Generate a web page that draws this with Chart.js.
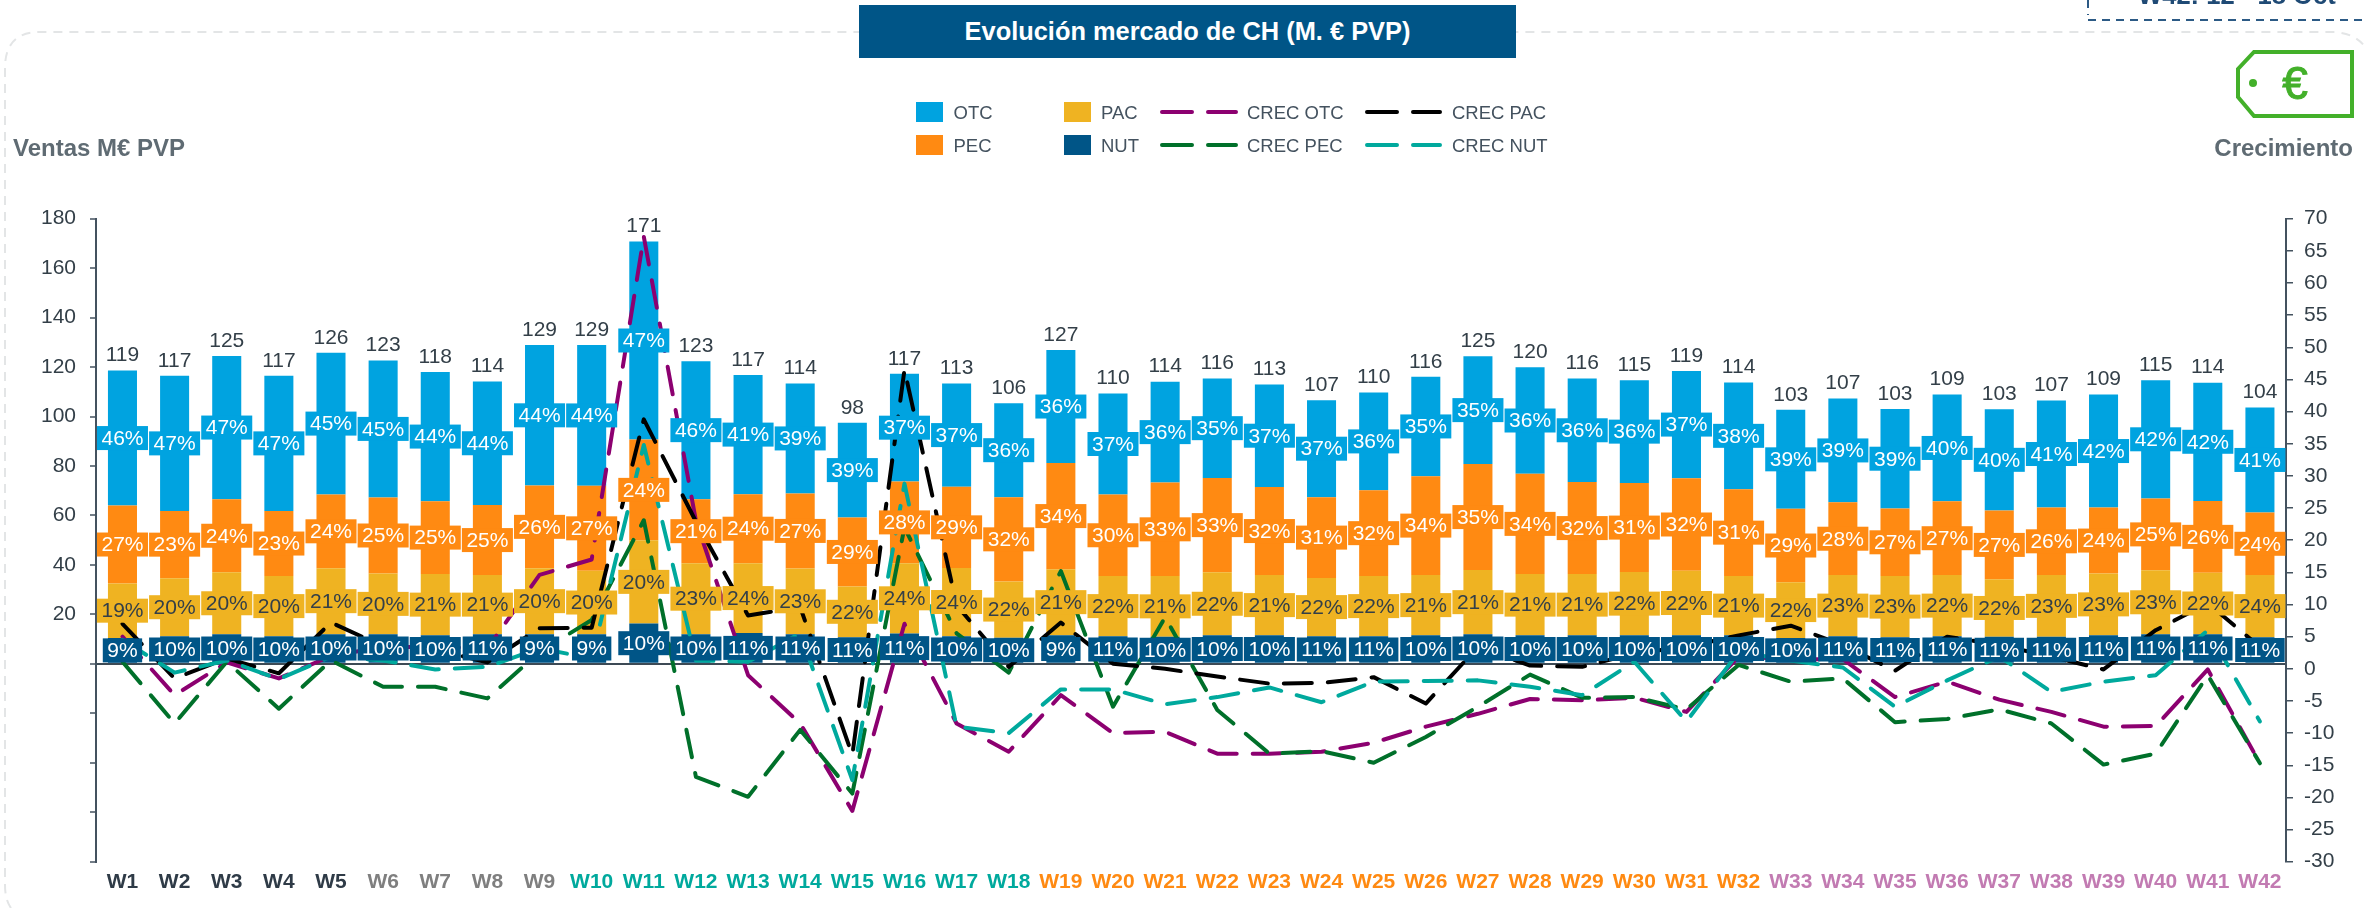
<!DOCTYPE html>
<html><head><meta charset="utf-8">
<script src="https://cdn.jsdelivr.net/npm/chart.js@4"></script>
<style>
html,body{margin:0;padding:0;background:#fff;width:2367px;height:908px;overflow:hidden;font-family:"Liberation Sans",Arial,sans-serif}
#wrap{position:relative;width:2367px;height:908px;overflow:hidden}
canvas{position:absolute;left:0;top:0}
.a{position:absolute;white-space:nowrap}
#title{left:859px;top:5px;width:657px;height:53px;background:#005587;color:#fff;font-weight:bold;font-size:25.4px;line-height:53px;text-align:center}
.sw{width:27px;height:20px}
.lt{font-size:18.5px;color:#44525f;line-height:22px;transform:translateY(-50%)}
.ax{font-weight:bold;font-size:24px;color:#5f6b73;line-height:28px}
svg{position:absolute;left:0;top:0}
</style></head><body><div id="wrap">
<svg width="2367" height="908">
<path d="M 11 908 Q 5 900 5 885 L 5 68 Q 5 32 40 32 L 2335 32 Q 2358 34 2367 50" fill="none" stroke="#e3e5e6" stroke-width="2" stroke-dasharray="9 7"/>
<path d="M 2088 0 L 2088 15 M 2088 20 L 2367 20" fill="none" stroke="#2c5a85" stroke-width="2" stroke-dasharray="8 6"/>
<path d="M 2254 52 L 2352 52 L 2352 116 L 2254 116 L 2238 97 L 2238 69 Z" fill="none" stroke="#43b02a" stroke-width="4"/>
<circle cx="2253" cy="83" r="4" fill="#43b02a"/>
<g stroke-width="4" stroke-linecap="round">
<path d="M1162 112H1192M1208 112H1236" stroke="#8c0070"/>
<path d="M1367 112H1397M1413 112H1440" stroke="#000"/>
<path d="M1162 145H1192M1208 145H1236" stroke="#00702a"/>
<path d="M1367 145H1397M1413 145H1440" stroke="#00a99d"/>
</g>
</svg>
<canvas id="c" width="2367" height="908"></canvas>
<div class="a" id="title">Evolución mercado de CH (M. € PVP)</div>
<div class="a" style="left:2295px;top:83px;transform:translate(-50%,-50%);font-size:46px;color:#43b02a;line-height:50px;-webkit-text-stroke:1px #43b02a">€</div>
<div class="a" style="left:2138px;top:-20.5px;font-size:25.6px;font-weight:bold;color:#1f4a75;line-height:30px">W42: 12 - 18 Oct</div>
<div class="a ax" style="left:13px;top:134px">Ventas M€ PVP</div>
<div class="a ax" style="right:14px;top:134px">Crecimiento</div>
<div class="a sw" style="left:916px;top:102px;background:#00a3e0"></div><div class="a lt" style="left:953.5px;top:113px">OTC</div>
<div class="a sw" style="left:916px;top:135px;background:#ff8a12"></div><div class="a lt" style="left:953.5px;top:146px">PEC</div>
<div class="a sw" style="left:1064px;top:102px;background:#efb322"></div><div class="a lt" style="left:1101px;top:113px">PAC</div>
<div class="a sw" style="left:1064px;top:135px;background:#005587"></div><div class="a lt" style="left:1101px;top:146px">NUT</div>
<div class="a lt" style="left:1247px;top:113px">CREC OTC</div>
<div class="a lt" style="left:1247px;top:146px">CREC PEC</div>
<div class="a lt" style="left:1452px;top:113px">CREC PAC</div>
<div class="a lt" style="left:1452px;top:146px">CREC NUT</div>
</div>
<script>
const weeks = ["W1","W2","W3","W4","W5","W6","W7","W8","W9","W10","W11","W12","W13","W14","W15","W16","W17","W18","W19","W20","W21","W22","W23","W24","W25","W26","W27","W28","W29","W30","W31","W32","W33","W34","W35","W36","W37","W38","W39","W40","W41","W42"];
const weekColors = [...Array(5).fill("#2f3b47"),...Array(4).fill("#7f7f7f"),...Array(9).fill("#00a99d"),...Array(14).fill("#ff8a12"),...Array(10).fill("#c27bb2")];
const nut = [10.5,11.2,12,11.2,12,12,11.6,12,12,12,16.3,12,12.5,12,10.8,12.3,11.2,10.6,11.6,11.2,11,11.6,11.6,11.2,11.2,11.6,12,11.6,11.6,11.6,11.6,11.6,10.5,11.2,10.8,11.2,11,11,11.6,12,12,10.8];
const pac = [22,23.4,25,24.3,26.7,24.5,24.7,23.9,26.7,25.6,33.7,28.7,28.2,26.6,20.5,28.4,27.6,22.7,26.7,24.3,24.5,25.4,24.3,23.5,24.3,24.3,25.9,24.7,24.7,25.5,26,23.9,22.5,24.7,24.7,24.7,23.2,24.9,24.9,25.8,24.8,25.1];
const pec = [31.5,27.2,29.6,26.3,29.8,30.8,29.5,28.3,33.4,34.4,40.7,25.9,27.9,30.3,27.9,33,32.8,34.1,42.9,33,37.8,38.2,35.6,32.7,34.7,40,42.9,40.6,37.2,36,37.5,35.1,29.7,29.4,27.3,29.8,27.8,27.3,26.7,29.1,29.1,25.3];
const otc = [54.6,54.7,57.9,54.7,57.3,55.4,52.2,50,56.8,56.9,80.1,55.8,48.2,44.5,38.3,43.6,41.8,38,45.7,40.8,40.8,40.2,41.5,39.2,39.5,40.2,43.6,43,41.9,41.6,43.3,43.2,40,42,40.3,43.2,41,43.3,45.7,47.8,47.8,42.5];
const totals = [119,117,125,117,126,123,118,114,129,129,171,123,117,114,98,117,113,106,127,110,114,116,113,107,110,116,125,120,116,115,119,114,103,107,103,109,103,107,109,115,114,104];
const otcPct = [46,47,47,47,45,45,44,44,44,44,47,46,41,39,39,37,37,36,36,37,36,35,37,37,36,35,35,36,36,36,37,38,39,39,39,40,40,41,42,42,42,41];
const pecPct = [27,23,24,23,24,25,25,25,26,27,24,21,24,27,29,28,29,32,34,30,33,33,32,31,32,34,35,34,32,31,32,31,29,28,27,27,27,26,24,25,26,24];
const pacPct = [19,20,20,20,21,20,21,21,20,20,20,23,24,23,22,24,24,22,21,22,21,22,21,22,22,21,21,21,21,22,22,21,22,23,23,22,22,23,23,23,22,24];
const nutPct = [9,10,10,10,10,10,10,11,9,9,10,10,11,11,11,11,10,10,9,11,10,10,10,11,11,10,10,10,10,10,10,10,10,11,11,11,11,11,11,11,11,11];
const crecOtc = [5,-4.1,1,-1.5,2,3.4,3.4,3.2,14.6,17,67.2,23,-1,-8.5,-22.1,7,-8.5,-12.9,-4.1,-10,-9.8,-13.2,-13.2,-12.9,-11.5,-9,-7,-4.7,-4.9,-4.5,-6.7,1.9,1.5,1.5,-4.4,-2,-4.8,-6.7,-9,-8.9,-0.1,-14.7];
const crecPac = [7,-1.5,1.6,-0.7,7.2,3.5,3,1,6.3,6.4,38.8,22.9,8.3,9.6,-13.4,46.5,9.9,0.3,7.2,0.8,0,-1.2,-2.3,-2.2,-1.3,-5.4,3.4,0.5,0.3,2.4,3.4,5.2,6.7,3.7,-0.3,5,3.7,1.9,-0.1,6,10.2,3.4];
const crecPec = [1.1,-8.5,1.1,-6.2,1.3,-2.8,-2.8,-4.6,2.6,7.6,23.1,-16.8,-19.9,-9.5,-19.4,22,5.5,-0.6,15.2,-5.9,8,-6.4,-13.2,-12.8,-14.6,-10.6,-5.9,-0.9,-4.5,-4.4,-6.3,0.6,-2,-1.5,-8.3,-7.8,-6.3,-8.5,-14.9,-13.2,-1,-14.7];
const crecNut = [4.5,-0.6,1.3,-1.6,1.9,1.3,-0.1,0.3,3.2,1.6,34.8,1.3,1.1,5.5,-17.3,28.8,-9,-10,-3.2,-3.2,-5.5,-4.4,-2.9,-5.2,-2,-1.9,-1.8,-2.8,-4.1,1.1,-8.2,2.6,1.3,0.2,-5.9,-1.8,1.9,-3.6,-2,-1,6,-8.2];

const C = {otc:"#00a3e0",pec:"#ff8a12",pac:"#efb322",nut:"#005587",axis:"#44525f",text:"#333f48"};
const FONT = '"Liberation Sans", Arial, sans-serif';
const FS = 21;

const bar = (label,data,color) => ({type:"bar",label,data,backgroundColor:color,stack:"s",yAxisID:"y",order:5,categoryPercentage:1,barPercentage:0.557});
const line = (label,data,color,order) => ({type:"line",label,data,borderColor:color,borderWidth:4,borderDash:[28,16],borderCapStyle:"round",borderJoinStyle:"round",tension:0,pointRadius:0,pointHoverRadius:0,fill:false,yAxisID:"y1",order,clip:false});

const labelsPlugin = {
  id:"boxLabels",
  afterDatasetsDraw(chart){
    const {ctx} = chart;
    const specs = [
      {idx:0,pct:nutPct,bg:C.nut,fg:"#fff"},
      {idx:1,pct:pacPct,bg:C.pac,fg:C.text},
      {idx:2,pct:pecPct,bg:C.pec,fg:"#fff"},
      {idx:3,pct:otcPct,bg:C.otc,fg:"#fff"}
    ];
    ctx.save();
    ctx.font = FS+"px "+FONT;
    ctx.textAlign="center"; ctx.textBaseline="middle";
    specs.forEach(s=>{
      const meta = chart.getDatasetMeta(s.idx);
      meta.data.forEach((el,i)=>{
        const cx = el.x, cy = (el.y+el.base)/2;
        const t = s.pct[i]+"%";
        const w = ctx.measureText(t).width+9, h=24;
        ctx.fillStyle=s.bg; ctx.fillRect(cx-w/2,cy-h/2,w,h);
        ctx.fillStyle=s.fg; ctx.fillText(t,cx,cy+1);
      });
    });
    const top = chart.getDatasetMeta(3);
    ctx.fillStyle=C.text;
    top.data.forEach((el,i)=>{ ctx.fillText(String(totals[i]),el.x,el.y-15); });
    ctx.restore();
  }
};

new Chart(document.getElementById("c"),{
  data:{labels:weeks,datasets:[
    bar("NUT",nut,C.nut),bar("PAC",pac,C.pac),bar("PEC",pec,C.pec),bar("OTC",otc,C.otc),
    line("CREC OTC",crecOtc,"#8c0070",4),
    line("CREC PEC",crecPec,"#00702a",3),
    line("CREC PAC",crecPac,"#000000",2),
    line("CREC NUT",crecNut,"#00a99d",1)
  ]},
  options:{
    responsive:false,animation:false,
    layout:{padding:{top:218.7,left:0,right:0,bottom:0}},
    plugins:{legend:{display:false},tooltip:{enabled:false},title:{display:false}},
    scales:{
      x:{stacked:true,grid:{display:false},border:{display:false},
        afterFit(s){s.height=46.3;},
        ticks:{autoSkip:false,maxRotation:0,minRotation:0,padding:0,color:c=>weekColors[c.index],font:{family:FONT,size:FS,weight:"bold"}}},
      y:{position:"left",stacked:true,min:-80,max:180,
        afterFit(s){s.width=96.4;},
        afterBuildTicks(s){s.ticks=[];for(let v=-80;v<=180;v+=20)s.ticks.push({value:v});},
        border:{display:true,color:C.axis,width:2},
        grid:{color:c=>c.tick&&c.tick.value===0?"#3d4a55":"rgba(0,0,0,0)",lineWidth:2,tickColor:C.axis,tickLength:6.4,tickWidth:1.5,drawTicks:true},
        ticks:{padding:14,color:C.text,font:{family:FONT,size:FS},callback:v=>v>0?String(v):""}},
      y1:{position:"right",min:-30,max:70,
        afterFit(s){s.width=81;},
        afterBuildTicks(s){s.ticks=[];for(let v=-30;v<=70;v+=5)s.ticks.push({value:v});},
        border:{display:true,color:C.axis,width:2},
        grid:{drawOnChartArea:false,color:C.axis,lineWidth:1.5,tickLength:7},
        ticks:{padding:11,color:C.text,font:{family:FONT,size:FS},callback:v=>String(v)}}
    }
  },
  plugins:[labelsPlugin]
});
</script></body></html>
